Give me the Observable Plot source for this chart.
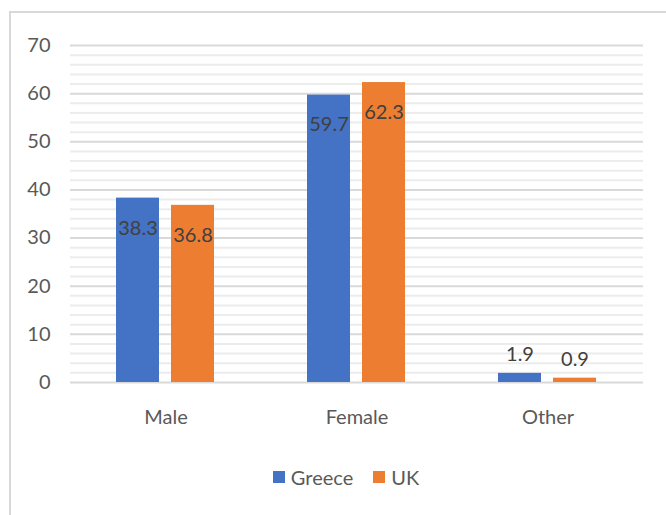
<!DOCTYPE html>
<html>
<head>
<meta charset="utf-8">
<script src="https://cdn.jsdelivr.net/npm/d3@7"></script>
<script src="https://cdn.jsdelivr.net/npm/@observablehq/plot@0.6"></script>
<style>
  html, body { margin: 0; padding: 0; background: #fff; }
  #wrap {
    position: relative; width: 666px; height: 515px; overflow: hidden;
    font-family: Lato, "Open Sans", sans-serif;
  }
  #frame {
    position: absolute; left: 9px; top: 11px; width: 700px; height: 600px;
    border-top: 2px solid #d9d9d9; border-left: 2px solid #d9d9d9;
    box-sizing: border-box;
  }
  #chart { position: absolute; left: 0; top: 0; }
  #legend {
    position: absolute; left: 0; width: 666px; top: 465px;
    display: flex; justify-content: center; gap: 20px;
    font-size: 20px; color: #595959; padding-left: 26px; box-sizing: border-box;
  }
  #legend .item { display: flex; align-items: center; gap: 6px; }
  #legend .sw { width: 12px; height: 12px; display: inline-block; }
</style>
</head>
<body>
<div id="wrap">
  <div id="frame"></div>
  <div id="chart"></div>
  <div id="legend"></div>
</div>
<script>
// Gender breakdown (%) of respondents by country
const categories = ["Male", "Female", "Other"];
const series = ["Greece", "UK"];
const greece = [38.3, 59.7, 1.9];
const uk = [36.8, 62.3, 0.9];
const colors = ["#4472c4", "#ed7d31"];
const yTicks = [0, 10, 20, 30, 40, 50, 60, 70];

const rows = categories.flatMap((c, i) => [
  {category: c, country: series[0], value: greece[i]},
  {category: c, country: series[1], value: uk[i]}
]);

// light minor gridlines every 2 units, darker major ones every 10
const minor = d3.range(0, 71, 2).filter(v => v % 10 !== 0);

// tall bars carry their label inside the top, short bars just above
const inside = rows.filter(d => d.value >= 10);
const above = rows.filter(d => d.value < 10);
const fmt = d => d.value.toFixed(1);

const plot = Plot.plot({
  width: 666,
  height: 445,
  marginTop: 45,
  marginBottom: 63,
  marginLeft: 70,
  marginRight: 23,
  style: {fontFamily: "Lato, 'Open Sans', sans-serif", fontSize: "20px", color: "#595959", background: "transparent"},
  fx: {domain: categories, padding: 0, label: null, axis: "bottom", tickSize: 0, tickPadding: 27},
  x: {domain: series, axis: null, paddingInner: 0.218, paddingOuter: 0.845},
  y: {domain: [0, 70], ticks: yTicks, tickSize: 0, tickPadding: 20, label: null},
  color: {domain: series, range: colors},
  marks: [
    Plot.ruleY(minor, {stroke: "#ececec", strokeWidth: 2}),
    Plot.ruleY(yTicks, {stroke: "#d9d9d9", strokeWidth: 2}),
    Plot.barY(rows, {fx: "category", x: "country", y: "value", fill: "country"}),
    Plot.text(inside, {fx: "category", x: "country", y: "value", text: fmt,
      dy: 30, fill: "#404040", fontSize: 20}),
    Plot.text(above, {fx: "category", x: "country", y: "value", text: fmt,
      dy: -19, fill: "#404040", fontSize: 20})
  ]
});
document.getElementById("chart").appendChild(plot);

const legend = document.getElementById("legend");
series.forEach((s, i) => {
  const item = document.createElement("span");
  item.className = "item";
  const sw = document.createElement("span");
  sw.className = "sw";
  sw.style.background = colors[i];
  const label = document.createElement("span");
  label.textContent = s;
  item.append(sw, label);
  legend.appendChild(item);
});
</script>
</body>
</html>
